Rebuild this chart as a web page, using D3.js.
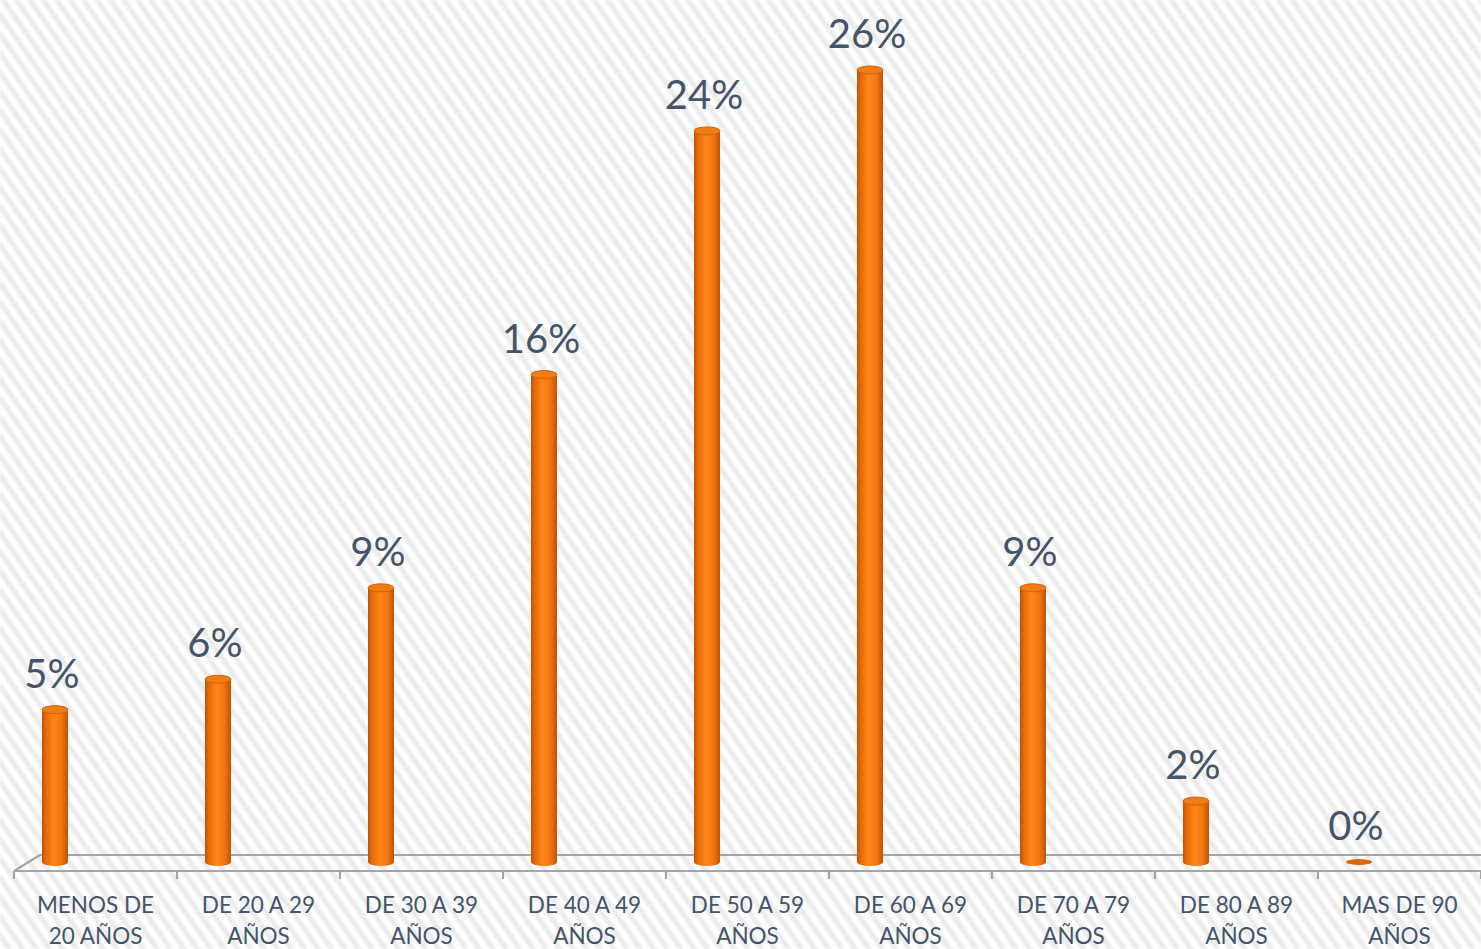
<!DOCTYPE html>
<html><head><meta charset="utf-8">
<script src="https://cdn.jsdelivr.net/npm/d3@7"></script>
<style>html,body{margin:0;padding:0;background:#fff;overflow:hidden}</style>
</head><body>
<svg id="c" width="1481" height="949"></svg>
<script>
const categories = [
  ["MENOS DE","20 AÑOS"],["DE 20 A 29","AÑOS"],["DE 30 A 39","AÑOS"],["DE 40 A 49","AÑOS"],
  ["DE 50 A 59","AÑOS"],["DE 60 A 69","AÑOS"],["DE 70 A 79","AÑOS"],["DE 80 A 89","AÑOS"],["MAS DE 90","AÑOS"]
];
const values = [5, 6, 9, 16, 24, 26, 9, 2, 0];
const valueLabels = ["5%","6%","9%","16%","24%","26%","9%","2%","0%"];

const W = 1481, H = 949;
const svg = d3.select("#c");
const defs = svg.append("defs");

// striped background
const pat = defs.append("pattern").attr("id","stripes").attr("patternUnits","userSpaceOnUse")
  .attr("width",11).attr("height",11).attr("patternTransform","rotate(-35)");
pat.append("rect").attr("width",11).attr("height",11).attr("fill","#ffffff");
pat.append("rect").attr("x",0).attr("width",5).attr("height",11).attr("fill","#eaeaea");
const blur = defs.append("filter").attr("id","soft");
blur.append("feGaussianBlur").attr("stdDeviation",1);
svg.append("rect").attr("width",W).attr("height",H).attr("fill","url(#stripes)").attr("filter","url(#soft)");

// cylinder gradients
const g1 = defs.append("linearGradient").attr("id","cyl").attr("x1","0").attr("x2","1").attr("y1","0").attr("y2","0");
[[0,"#c05205"],[0.15,"#e66a08"],[0.45,"#ff861a"],[0.75,"#f27610"],[1,"#bf5305"]].forEach(([o,c])=>g1.append("stop").attr("offset",o).attr("stop-color",c));

const x = d3.scaleBand().domain(d3.range(categories.length)).range([14, 1481]).paddingInner(0).paddingOuter(0);
const y = d3.scaleLinear().domain([0, 26]).range([862, 70]);

const backY = 855, frontY = 871;
// floor
const floor = svg.append("g").attr("stroke","#a3a5ab").attr("stroke-width",2.2).attr("fill","none");
floor.append("line").attr("x1",x.range()[0]+26).attr("x2",W).attr("y1",backY).attr("y2",backY);
floor.append("line").attr("x1",x.range()[0]).attr("x2",W).attr("y1",frontY).attr("y2",frontY);
floor.append("line").attr("x1",x.range()[0]).attr("x2",x.range()[0]+26).attr("y1",frontY).attr("y2",backY);
// ticks
const tickPos = d3.range(categories.length+1).map(i => i < categories.length ? x(i) : x.range()[1]);
floor.selectAll("line.tick").data(tickPos).join("line").attr("class","tick")
  .attr("x1",d=>d).attr("x2",d=>d).attr("y1",frontY).attr("y2",frontY+8);

// bars
const bw = 26, off = 28, ry = 4;
const bars = svg.append("g").selectAll("g").data(values).join("g");
bars.each(function(v,i){
  const g = d3.select(this);
  const x0 = x(i) + off;
  const yb = y(0), yt = y(v);
  if (v > 0) {
    g.append("path")
      .attr("d", `M${x0},${yt} L${x0},${yb} A${bw/2},${ry} 0 0 0 ${x0+bw},${yb} L${x0+bw},${yt} Z`)
      .attr("fill","url(#cyl)");
    g.append("ellipse").attr("cx",x0+bw/2).attr("cy",yt).attr("rx",bw/2).attr("ry",ry)
      .attr("fill","#f07c16").attr("stroke","#d46206").attr("stroke-width",1);
  } else {
    g.append("ellipse").attr("cx",x0+bw/2).attr("cy",yb).attr("rx",bw/2).attr("ry",ry-1)
      .attr("fill","#db680a");
  }
});

// value labels
svg.append("g").selectAll("text").data(values).join("text")
  .attr("x",(d,i)=>x(i)+off+bw/2 - 3)
  .attr("y",d=>y(d)-22)
  .attr("text-anchor","middle")
  .attr("font-family","Lato, 'Open Sans', sans-serif")
  .attr("font-size",40)
  .attr("fill","#44546a")
  .text((d,i)=>valueLabels[i]);

// category labels
const cl = svg.append("g").selectAll("text").data(categories).join("text")
  .attr("text-anchor","middle")
  .attr("font-family","Lato, 'Open Sans', sans-serif")
  .attr("font-size",22.5)
  .attr("fill","#44546a");
cl.each(function(d,i){
  const t = d3.select(this);
  const cx = x(i) + x.bandwidth()/2;
  d.forEach((line,j)=>t.append("tspan").attr("x",cx).attr("y",913 + j*31).text(line));
});
</script>
</body></html>
